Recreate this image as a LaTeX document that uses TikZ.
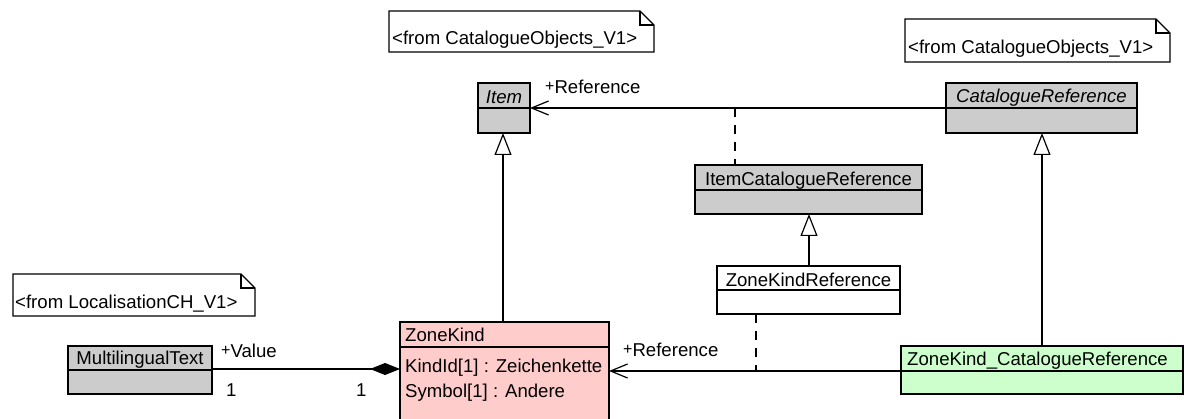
\documentclass[tikz,border=0pt]{standalone}
\usepackage{fontspec}
\setmainfont{Liberation Sans}
\usetikzlibrary{arrows.meta}
\definecolor{classgray}{HTML}{CCCCCC}
\definecolor{classpink}{HTML}{FFCCCC}
\definecolor{classgreen}{HTML}{CCFFCC}
\tikzset{
  wire/.style={line width=1.2pt},
  classbox/.style={draw, wire, inner sep=0pt, outer sep=0pt, anchor=north west},
  title/.style={inner sep=0pt, anchor=base},
  ltitle/.style={inner sep=0pt, anchor=base west},
  lbl/.style={inner sep=0pt, anchor=base west},
  notebox/.style={draw, wire, fill=white},
  genarrow/.style={wire, -{Triangle[open, length=22pt, width=17pt, line width=1.2pt]}},
  navarrow/.style={wire, -{Straight Barb[length=17pt, width=14pt, line width=1.2pt]}},
  comparrow/.style={wire, -{Diamond[length=30pt, width=12pt]}},
  assocdash/.style={wire, dash pattern=on 9pt off 8pt},
}
\newcommand{\plusmark}{{\fontsize{16}{16}\selectfont\raisebox{2.5pt}{+}}}
\begin{document}
\begin{tikzpicture}[x=1pt, y=-1pt, font=\fontsize{18.6}{21}\selectfont]
\useasboundingbox (0,0) rectangle (1184,419);

% ---- package notes ----
\draw[notebox] (389,11) -- (640,11) -- (654,25) -- (654,52) -- (389,52) -- cycle;
\draw[wire] (640,11) -- (640,25) -- (654,25);
\node[lbl] (noteA) at (392,45) {<from CatalogueObjects\_V1>};

\draw[notebox] (905,19) -- (1156,19) -- (1170,33) -- (1170,62) -- (905,62) -- cycle;
\draw[wire] (1156,19) -- (1156,33) -- (1170,33);
\node[lbl] (noteB) at (908,54) {<from CatalogueObjects\_V1>};

\draw[notebox] (13,274) -- (241,274) -- (255,288) -- (255,316) -- (13,316) -- cycle;
\draw[wire] (241,274) -- (241,288) -- (255,288);
\node[lbl] (noteC) at (15,309) {<from LocalisationCH\_V1>};

% ---- classes ----
\node[classbox, fill=classgray, minimum width=52pt, minimum height=50pt] (item) at (478,83) {};
\draw[wire] (item.west |- 0,108) -- (item.east |- 0,108);
\node[title] (itemT) at (504,104) {\itshape Item};

\node[classbox, fill=classgray, minimum width=191pt, minimum height=50pt] (catref) at (946,83) {};
\draw[wire] (catref.west |- 0,108) -- (catref.east |- 0,108);
\node[title] (catrefT) at (1041.5,103) {\itshape CatalogueReference};

\node[classbox, fill=classgray, minimum width=227pt, minimum height=49pt] (icr) at (695,165) {};
\draw[wire] (icr.west |- 0,190) -- (icr.east |- 0,190);
\node[title] (icrT) at (808.5,186) {ItemCatalogueReference};

\node[classbox, fill=white, minimum width=183pt, minimum height=48pt] (zkr) at (717,266) {};
\draw[wire] (zkr.west |- 0,290) -- (zkr.east |- 0,290);
\node[title] (zkrT) at (808.5,287) {ZoneKindReference};

\node[classbox, fill=classpink, minimum width=209pt, minimum height=110pt] (zk) at (400,322) {};
\draw[wire] (zk.west |- 0,347) -- (zk.east |- 0,347);
\node[ltitle] (zkT) at (405,342) {ZoneKind};
\node[lbl] (zkA1) at (405,373) {KindId[1] : Zeichenkette};
\node[lbl] (zkA2) at (405,398) {Symbol[1] : Andere};

\node[classbox, fill=classgray, minimum width=144pt, minimum height=48pt] (mt) at (68,346) {};
\draw[wire] (mt.west |- 0,370) -- (mt.east |- 0,370);
\node[title] (mtT) at (140,365) {MultilingualText};

\node[classbox, fill=classgreen, minimum width=282pt, minimum height=48pt] (zkcr) at (901,346) {};
\draw[wire] (zkcr.west |- 0,371) -- (zkcr.east |- 0,371);
\node[ltitle] (zkcrT) at (907,366) {ZoneKind\_CatalogueReference};

% ---- generalisations ----
\coordinate (zkTop) at (zk.north -| 503,0);
\draw[genarrow] (zkTop) -- (zkTop |- item.south);
\draw[genarrow] (zkr.north -| 809,0) -- (icr.south -| 809,0);
\draw[genarrow] (zkcr.north -| 1042,0) -- (catref.south -| 1042,0);

% ---- associations ----
\draw[navarrow] (catref.west |- 0,108) -- (item.east |- 0,108);
\node[lbl] (refA) at (545,94) {\plusmark Reference};
\coordinate (icrLink) at (735,108);
\draw[assocdash] (icrLink) -- (icr.north -| icrLink);

\draw[navarrow] (zkcr.west |- 0,371) -- (zk.east |- 0,371);
\node[lbl] (refB) at (623,357) {\plusmark Reference};
\coordinate (zkrLink) at (756,371);
\draw[assocdash] (zkr.south -| zkrLink) -- (zkrLink);

\draw[comparrow] (mt.east |- 0,369) -- (zk.west |- 0,369);
\node[lbl] (valL) at (221,358) {\plusmark Value};
\node[lbl] (mulA) at (226,397) {1};
\node[lbl] (mulB) at (356,397) {1};
\end{tikzpicture}
\end{document}
